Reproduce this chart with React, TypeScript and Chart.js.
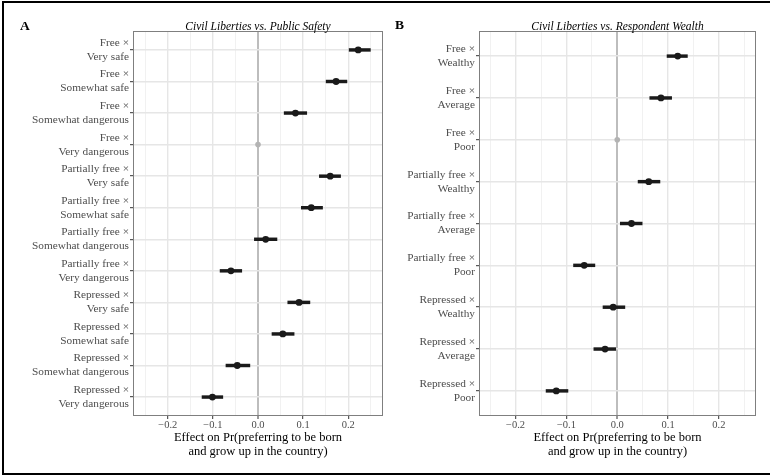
import React, { useEffect, useRef } from "react";
import { Chart, registerables } from "chart.js";

Chart.register(...registerables);

// ---------- Panel A data ----------
const labelsA: string[][] = [
  ["Free ×", "Very safe"],
  ["Free ×", "Somewhat safe"],
  ["Free ×", "Somewhat dangerous"],
  ["Free ×", "Very dangerous"],
  ["Partially free ×", "Very safe"],
  ["Partially free ×", "Somewhat safe"],
  ["Partially free ×", "Somewhat dangerous"],
  ["Partially free ×", "Very dangerous"],
  ["Repressed ×", "Very safe"],
  ["Repressed ×", "Somewhat safe"],
  ["Repressed ×", "Somewhat dangerous"],
  ["Repressed ×", "Very dangerous"],
];
const estA = [0.222, 0.173, 0.083, 0, 0.16, 0.118, 0.017, -0.06, 0.091, 0.055, -0.046, -0.101];
const lowA = [0.202, 0.151, 0.058, null, 0.136, 0.096, -0.008, -0.084, 0.066, 0.031, -0.071, -0.124];
const highA = [0.249, 0.197, 0.108, null, 0.183, 0.143, 0.042, -0.036, 0.115, 0.08, -0.018, -0.078];
const titleA = "Civil Liberties vs. Public Safety";

// ---------- Panel B data ----------
const labelsB: string[][] = [
  ["Free ×", "Wealthy"],
  ["Free ×", "Average"],
  ["Free ×", "Poor"],
  ["Partially free ×", "Wealthy"],
  ["Partially free ×", "Average"],
  ["Partially free ×", "Poor"],
  ["Repressed ×", "Wealthy"],
  ["Repressed ×", "Average"],
  ["Repressed ×", "Poor"],
];
const estB = [0.119, 0.086, 0, 0.062, 0.028, -0.065, -0.008, -0.024, -0.12];
const lowB = [0.098, 0.064, null, 0.041, 0.006, -0.086, -0.028, -0.046, -0.14];
const highB = [0.138, 0.107, null, 0.084, 0.049, -0.044, 0.015, -0.003, -0.097];
const titleB = "Civil Liberties vs. Respondent Wealth";

// ---------- Shared axis ----------
const majorTicks = [-0.2, -0.1, 0, 0.1, 0.2];
const minorTicks = [-0.25, -0.15, -0.05, 0.05, 0.15, 0.25];
const xTitle = ["Effect on Pr(preferring to be born", "and grow up in the country)"];

const SERIF = "'Liberation Serif', 'Times New Roman', serif";

const framePlugin = {
  id: "frame",
  afterDraw(chart: any, _args: any, opts: any) {
    const { ctx, chartArea } = chart;
    const l = Math.round(chartArea.left) + 0.5;
    const t = Math.round(chartArea.top) + 0.5;
    const r = Math.round(chartArea.right) - 0.5;
    const b = Math.round(chartArea.bottom) - 0.5;
    ctx.save();
    ctx.strokeStyle = "#7f7f7f";
    ctx.lineWidth = 1;
    ctx.strokeRect(l, t, r - l, b - t);
    if (opts && opts.title) {
      ctx.fillStyle = "#000";
      ctx.font = `italic 11.5px ${SERIF}`;
      ctx.textBaseline = "alphabetic";
      ctx.textAlign = "center";
      ctx.fillText(opts.title, (chartArea.left + chartArea.right) / 2, chartArea.top - 1.5);
    }
    if (opts && opts.letter) {
      ctx.fillStyle = "#000";
      ctx.font = `bold 13.5px ${SERIF}`;
      ctx.textBaseline = "alphabetic";
      ctx.textAlign = "left";
      ctx.fillText(opts.letter, opts.lx, opts.ly);
    }
    ctx.restore();
  },
};

function isMajor(v: number) {
  return majorTicks.some((m) => Math.abs(m - v) < 1e-9);
}

function fmt(v: number) {
  const s = Math.abs(v).toFixed(1);
  return v < -1e-9 ? "\u2212" + s : s;
}

function makeConfig(
  labels: string[][],
  est: number[],
  low: (number | null)[],
  high: (number | null)[],
  title: string,
  xmin: number,
  xmax: number,
  yWidth: number,
  padRight: number,
  letter: string,
  lx: number,
  ly: number
): any {
  const n = labels.length;
  const points = est.map((v, i) => ({ x: v, y: i + 1 }));
  const bars: any[] = [];
  low.forEach((lo, i) => {
    if (lo !== null && high[i] !== null) bars.push({ y: i + 1, x: [lo, high[i]] });
  });
  const pointColors = low.map((lo) => (lo === null ? "#b3b3b3" : "#1a1a1a"));
  const pointRadii = low.map((lo) => (lo === null ? 2.8 : 3.4));
  const allTicks = [...majorTicks, ...minorTicks].sort((a, b) => a - b);

  return {
    type: "bar",
    data: {
      datasets: [
        {
          type: "scatter",
          data: points,
          order: 0,
          pointRadius: pointRadii,
          pointHoverRadius: pointRadii,
          pointBackgroundColor: pointColors,
          pointBorderColor: pointColors,
          pointBorderWidth: 0,
          showLine: false,
        },
        {
          type: "bar",
          data: bars,
          order: 1,
          backgroundColor: "#1a1a1a",
          borderWidth: 0,
          barThickness: 2.8,
        },
      ],
    },
    options: {
      indexAxis: "y",
      responsive: false,
      animation: false,
      layout: { padding: { left: 0, right: padRight, top: 31, bottom: 0 } },
      plugins: {
        legend: { display: false },
        tooltip: { enabled: false },
        title: { display: false },
        frame: { letter, lx, ly, title },
      },
      scales: {
        x: {
          type: "linear",
          position: "bottom",
          min: xmin,
          max: xmax,
          offset: false,
          afterBuildTicks: (s: any) => {
            s.ticks = allTicks.map((v) => ({ value: v }));
          },
          afterFit: (s: any) => {
            s.height = 59;
          },
          border: { display: false },
          grid: {
            offset: false,
            drawTicks: true,
            tickLength: 3,
            color: (c: any) => {
              const v = c.tick ? c.tick.value : 1;
              if (Math.abs(v) < 1e-9) return "#bdbdbd";
              return isMajor(v) ? "#e6e6e6" : "#eeeeee";
            },
            lineWidth: (c: any) => {
              const v = c.tick ? c.tick.value : 1;
              if (Math.abs(v) < 1e-9) return 2;
              return isMajor(v) ? 1.4 : 0.8;
            },
            tickColor: (c: any) => {
              const v = c.tick ? c.tick.value : 1;
              return isMajor(v) ? "#333333" : "rgba(0,0,0,0)";
            },
            tickWidth: 1,
          },
          ticks: {
            autoSkip: false,
            maxRotation: 0,
            padding: 1,
            color: "#4d4d4d",
            font: { family: SERIF, size: 10.5, lineHeight: 1 },
            callback: (v: any) => (isMajor(Number(v)) ? fmt(Number(v)) : ""),
          },
          title: {
            display: true,
            text: xTitle,
            color: "#000",
            font: { family: SERIF, size: 12.5, lineHeight: 1.12 },
            padding: { top: 0, bottom: 16 },
          },
        },
        y: {
          type: "linear",
          position: "left",
          reverse: true,
          min: 0.4,
          max: n + 0.6,
          offset: false,
          afterBuildTicks: (s: any) => {
            s.ticks = labels.map((_, i) => ({ value: i + 1 }));
          },
          afterFit: (s: any) => {
            s.width = yWidth;
          },
          border: { display: false },
          grid: {
            offset: false,
            color: "#e6e6e6",
            lineWidth: 1.4,
            drawTicks: true,
            tickLength: 3,
            tickColor: "#333333",
            tickWidth: 1,
          },
          ticks: {
            autoSkip: false,
            padding: 1,
            color: "#4d4d4d",
            font: { family: SERIF, size: 11.3, lineHeight: 1.24 },
            callback: (v: any) => {
              const i = Math.round(Number(v)) - 1;
              return labels[i] || "";
            },
          },
        },
      },
    },
    plugins: [framePlugin],
  };
}

export default function App() {
  const refA = useRef<HTMLCanvasElement>(null);
  const refB = useRef<HTMLCanvasElement>(null);

  useEffect(() => {
    document.body.style.margin = "0";
    const a = new Chart(
      refA.current as HTMLCanvasElement,
      makeConfig(labelsA, estA, lowA, highA, titleA, -0.277, 0.277, 133, 7, "A", 20, 29.5)
    );
    const b = new Chart(
      refB.current as HTMLCanvasElement,
      makeConfig(labelsB, estB, lowB, highB, titleB, -0.272, 0.273, 89, 14, "B", 5, 28.5)
    );
    return () => {
      a.destroy();
      b.destroy();
    };
  }, []);

  return (
    <div
      style={{
        position: "relative",
        width: 770,
        height: 475,
        overflow: "hidden",
        background: "#fff",
      }}
    >
      <canvas
        ref={refA}
        width={390}
        height={475}
        style={{ position: "absolute", left: 0, top: 0, width: 390, height: 475 }}
      />
      <canvas
        ref={refB}
        width={380}
        height={475}
        style={{ position: "absolute", left: 390, top: 0, width: 380, height: 475 }}
      />
      <div
        style={{
          position: "absolute",
          left: 2,
          top: 1,
          width: 900,
          height: 474,
          border: "2px solid #000",
          boxSizing: "border-box",
          pointerEvents: "none",
        }}
      />
    </div>
  );
}
